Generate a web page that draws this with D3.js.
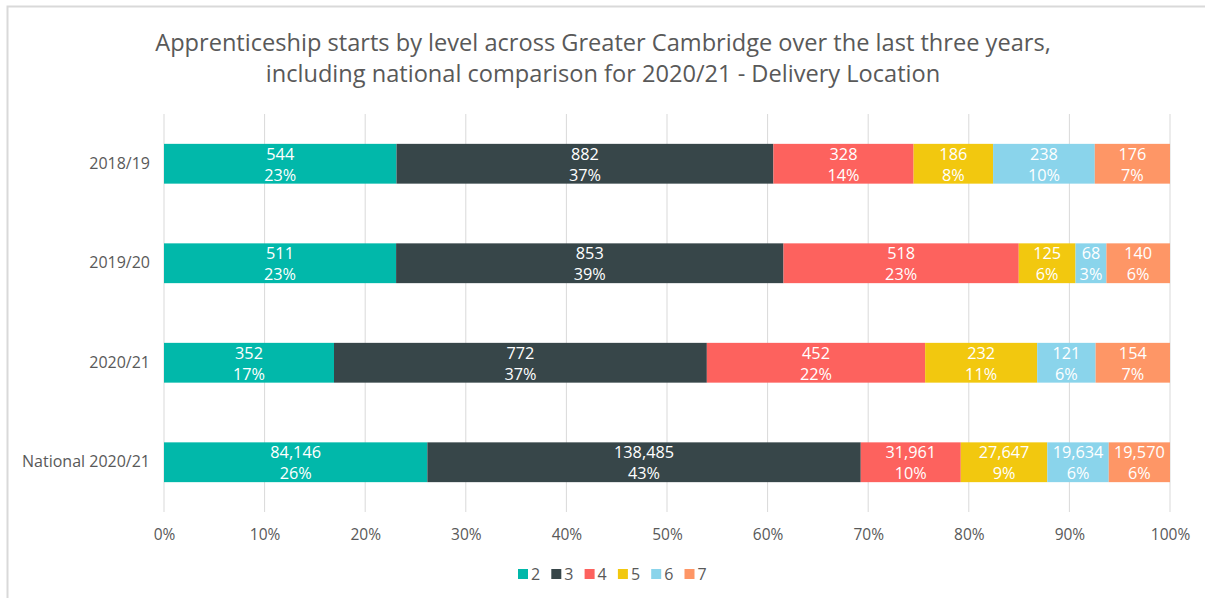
<!DOCTYPE html>
<html>
<head>
<meta charset="utf-8">
<script src="https://cdn.jsdelivr.net/npm/d3@7"></script>
<style>
  body { margin: 0; background: #fff; }
  text { font-family: "Open Sans", "Noto Sans", sans-serif; }
</style>
</head>
<body>
<svg id="chart" width="1205" height="598"></svg>
<script>
// data
const years = ["2018/19", "2019/20", "2020/21", "National 2020/21"];
const levels = ["2", "3", "4", "5", "6", "7"];
const level2 = [544, 511, 352, 84146];
const level3 = [882, 853, 772, 138485];
const level4 = [328, 518, 452, 31961];
const level5 = [186, 125, 232, 27647];
const level6 = [238, 68, 121, 19634];
const level7 = [176, 140, 154, 19570];
const ticks = [0, 0.1, 0.2, 0.3, 0.4, 0.5, 0.6, 0.7, 0.8, 0.9, 1];
const colours = ["#01B8AA", "#374649", "#FD625E", "#F2C80F", "#8AD4EB", "#FE9666"];

const series = [level2, level3, level4, level5, level6, level7];

let svg = d3.select("#chart");

// chart frame
svg.append("path")
	.attr("d", "M7.5,600 V6.5 H1210")
	.attr("fill", "none")
	.attr("stroke", "#d9d9d9")
	.attr("stroke-width", 2);

// title
let title = svg.append("text")
	.attr("text-anchor", "middle")
	.attr("fill", "#595959")
	.attr("font-size", 23.6);
title.append("tspan").attr("x", 603).attr("y", 51)
	.text("Apprenticeship starts by level across Greater Cambridge over the last three years,");
title.append("tspan").attr("x", 603).attr("y", 82)
	.text("including national comparison for 2020/21 - Delivery Location");

let x = d3.scaleLinear().domain([0, 1]).range([164, 1170]);
let y = d3.scaleBand().domain(years).range([114, 512]).paddingInner(0.6).paddingOuter(0.3);
let colour = d3.scaleOrdinal().domain(levels).range(colours);

// gridlines
svg.append("g")
	.selectAll("line")
	.data(ticks)
	.enter()
	.append("line")
	.attr("x1", d => x(d))
	.attr("x2", d => x(d))
	.attr("y1", 114)
	.attr("y2", 512)
	.attr("stroke", "#d9d9d9")
	.attr("stroke-width", 1);

// x axis labels
let xAxis = svg.append("g")
	.attr("transform", "translate(0,512)")
	.call(d3.axisBottom(x).tickValues(ticks).tickFormat(d3.format(".0%")).tickSize(0).tickPadding(17));
xAxis.select(".domain").remove();
xAxis.selectAll("text").attr("fill", "#595959").attr("font-size", 15.5).attr("font-family", "Open Sans");

// y axis labels
let yAxis = svg.append("g")
	.attr("transform", "translate(164,0)")
	.call(d3.axisLeft(y).tickSize(0).tickPadding(14));
yAxis.select(".domain").remove();
yAxis.selectAll("text").attr("fill", "#595959").attr("font-size", 16).attr("font-family", "Open Sans");

// stacked rows
let rows = years.map(function(year, i) {
	let total = d3.sum(series, s => s[i]);
	let acc = 0;
	return series.map(function(s, j) {
		let seg = { year: year, level: levels[j], value: s[i], share: s[i] / total, x0: acc };
		acc += s[i] / total;
		seg.x1 = acc;
		return seg;
	});
});
let segs = rows.flat();

let bars = svg.append("g");
bars.selectAll("rect")
	.data(segs)
	.enter()
	.append("rect")
	.attr("x", d => x(d.x0))
	.attr("width", d => x(d.x1) - x(d.x0))
	.attr("y", d => y(d.year))
	.attr("height", y.bandwidth())
	.attr("fill", d => colour(d.level));

let labels = bars.selectAll("text")
	.data(segs)
	.enter()
	.append("text")
	.attr("text-anchor", "middle")
	.attr("fill", "#fff")
	.attr("font-size", 16.3);
labels.append("tspan")
	.attr("x", d => (x(d.x0) + x(d.x1)) / 2)
	.attr("y", d => y(d.year) + 16)
	.text(d => d3.format(",")(d.value));
labels.append("tspan")
	.attr("x", d => (x(d.x0) + x(d.x1)) / 2)
	.attr("y", d => y(d.year) + 37)
	.text(d => Math.round(d.share * 100) + "%");

// legend
let legend = svg.append("g")
	.selectAll("g")
	.data(levels)
	.enter()
	.append("g")
	.attr("transform", (d, i) => "translate(" + (518 + i * 33.3) + ",569)");
legend.append("rect")
	.attr("width", 10)
	.attr("height", 10)
	.attr("fill", d => colour(d));
legend.append("text")
	.attr("x", 13)
	.attr("y", 11)
	.attr("fill", "#595959")
	.attr("font-size", 16)
	.text(d => d);
</script>
</body>
</html>
